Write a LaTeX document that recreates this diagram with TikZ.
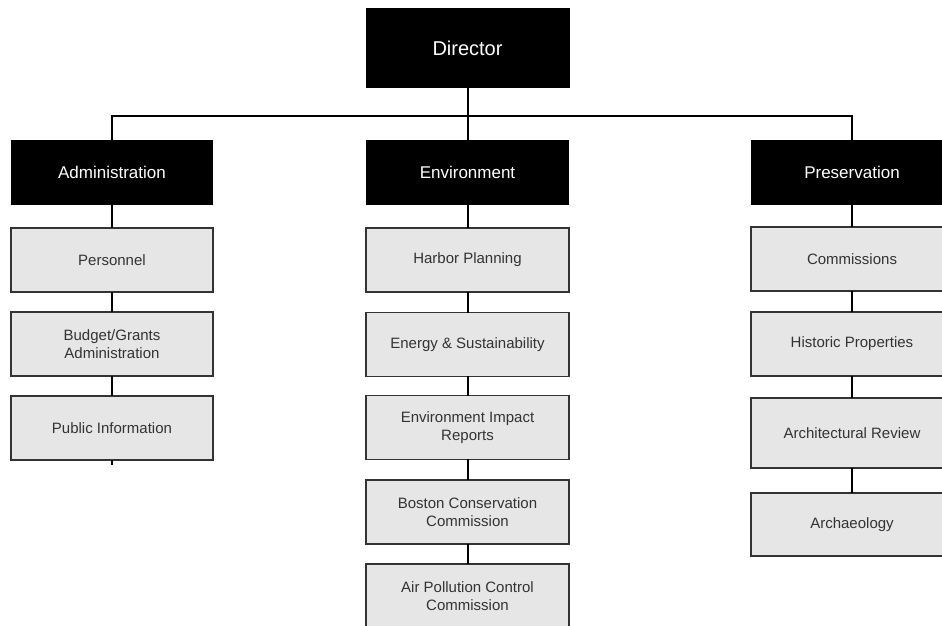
\documentclass[tikz,border=0pt]{standalone}
\usepackage{fontspec}
\setmainfont{Liberation Sans}
\usepackage{xcolor}
\usetikzlibrary{positioning}
\definecolor{unitGray}{RGB}{230,230,230}
\definecolor{unitText}{RGB}{51,51,51}

\begin{document}
\begin{tikzpicture}[x=1pt, y=-1pt, style={line cap = rect},
	head/.style={fill=black, text=white, minimum width=202pt, minimum height=65pt, inner sep=0pt, font=\fontsize{17}{19}\selectfont},
	unit/.style={draw=unitText, line width=1.4pt, fill=unitGray, text=unitText, minimum width=202pt, minimum height=64pt, inner sep=0pt, align=center, font=\fontsize{15}{18}\selectfont},
	link/.style={line width=2pt, black}]
					\useasboundingbox (0,0) rectangle (942,625);
					\clip (0,0) rectangle (942,625);
					\node[head, minimum width=204pt, minimum height=80pt, font=\fontsize{20}{22}\selectfont] (dir) at (467.5,48) {Director};
					\node[head] (adm) at (112,172.5) {Administration};
					\node[head, minimum width=203pt] (env) at (467.5,172) {Environment};
					\node[head] (pres) at (852,172) {Preservation};
					\coordinate (bus) at (0,116);
					\draw[link] (adm.north) |- (bus -| pres.north) -- (pres.north);
					\draw[link] (dir.south) -- (env.north);
					% administration
					\node[unit] (pers) at (112,260) {Personnel};
					\node[unit] (budg) at (112,344) {Budget/Grants\\Administration};
					\node[unit] (pubi) at (112,428) {Public Information};
					\coordinate (stub) at (112,464);
					% environment
					\node[unit, minimum width=203pt] (harb) at (467.5,260) {Harbor Planning};
					\node[unit, minimum width=203pt] (enrg) at (467.5,344.5) {Energy \& Sustainability};
					\node[unit, minimum width=203pt] (eimp) at (467.5,427.5) {Environment Impact\\Reports};
					\node[unit, minimum width=203pt] (bcc) at (467.5,512) {Boston Conservation\\Commission};
					\node[unit, minimum width=203pt] (apcc) at (467.5,596) {Air Pollution Control\\Commission};
					% preservation
					\node[unit] (comm) at (852,259) {Commissions};
					\node[unit] (hist) at (852,344) {Historic Properties};
					\node[unit, minimum height=70pt] (arch) at (852,433) {Architectural Review};
					\node[unit, minimum height=63pt] (arcl) at (852,524.5) {Archaeology};
					\draw[link] (adm) -- (pers) -- (budg) -- (pubi) -- (stub);
					\draw[link] (env) -- (harb) -- (enrg) -- (eimp) -- (bcc) -- (apcc);
					\draw[link] (pres) -- (comm) -- (hist) -- (arch) -- (arcl);
				\end{tikzpicture}
\end{document}
